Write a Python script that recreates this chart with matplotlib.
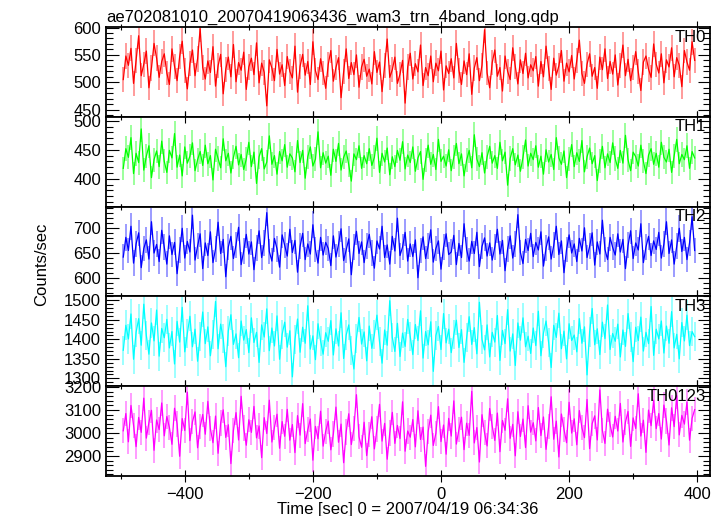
import numpy as np
import matplotlib
matplotlib.use("Agg")
import matplotlib.pyplot as plt
from matplotlib.ticker import MultipleLocator

plt.rcParams["font.family"] = ["Liberation Sans", "DejaVu Sans"]

# light curve bins (start time and bin width in sec)
t_start = -496
t_bin = 4

th0 = [505, 548, 531, 562, 498, 540, 585, 512, 533, 557, 490, 526, 571, 544, 509, 538,
       552, 517, 496, 561, 529, 503, 547, 575, 521, 488, 534, 559, 512, 543, 598, 527,
       506, 539, 518, 565, 493, 530, 551, 479, 524, 546, 510, 569, 501, 536, 522, 555,
       487, 528, 544, 514, 572, 499, 535, 518, 457, 541, 526, 503, 560, 515, 532, 494,
       547, 520, 508, 566, 482, 529, 551, 513, 538, 496, 574, 521, 505, 543, 517, 489,
       533, 558, 502, 527, 545, 472, 519, 561, 507, 536, 514, 550, 491, 528, 542, 511,
       524, 497, 556, 518, 537, 483, 531, 579, 509, 523, 546, 498, 515, 540, 462, 528,
       553, 506, 534, 519, 568, 494, 527, 512, 548, 501, 535, 521, 557, 486, 530, 516,
       543, 508, 571, 522, 496, 539, 514, 552, 478, 526, 545, 503, 531, 596, 517, 490,
       536, 559, 511, 527, 484, 548, 520, 505, 563, 529, 497, 541, 516, 553, 508, 532,
       521, 547, 493, 538, 510, 566, 525, 487, 544, 513, 530, 558, 502, 535, 519, 549,
       506, 540, 577, 516, 498, 533, 552, 511, 527, 489, 546, 523, 561, 507, 538, 515,
       550, 495, 531, 568, 512, 542, 503, 527, 556, 519, 485, 537, 548, 524, 509, 570,
       533, 517, 552, 499, 541, 528, 563, 510, 545, 531, 492, 558, 537, 522, 574, 540]

th1 = [418, 452, 437, 471, 409, 444, 428, 486, 415, 439, 457, 402, 433, 448, 421, 465,
       430, 411, 449, 436, 478, 420, 441, 405, 455, 427, 439, 462, 414, 433, 447, 423,
       458, 426, 440, 398, 451, 435, 419, 469, 431, 444, 410, 437, 456, 424, 442, 416,
       434, 463, 421, 446, 392, 438, 452, 417, 429, 474, 425, 440, 408, 447, 431, 459,
       420, 443, 436, 412, 466, 428, 449, 401, 438, 455, 422, 434, 481, 419, 445, 427,
       439, 406, 451, 430, 461, 415, 437, 448, 424, 396, 443, 433, 457, 418, 440, 426,
       452, 423, 437, 470, 411, 444, 429, 453, 407, 438, 421, 449, 432, 464, 417, 441,
       428, 455, 413, 436, 447, 399, 433, 458, 425, 442, 416, 468, 430, 439, 422, 450,
       414, 437, 461, 426, 443, 405, 432, 449, 419, 476, 434, 421, 445, 410, 438, 456,
       427, 440, 418, 463, 431, 446, 389, 435, 452, 424, 441, 413, 437, 467, 422, 444,
       433, 457, 420, 439, 408, 450, 429, 442, 416, 471, 436, 425, 448, 402, 434, 459,
       421, 445, 430, 466, 412, 438, 453, 426, 440, 397, 431, 456, 419, 443, 428, 462,
       435, 418, 449, 427, 475, 433, 414, 446, 438, 422, 458, 430, 409, 441, 452, 425,
       444, 420, 463, 437, 429, 451, 411, 439, 468, 426, 442, 433, 457, 418, 447, 436]

th2 = [642, 681, 655, 703, 630, 668, 690, 621, 659, 676, 638, 712, 650, 667, 633, 695,
       661, 628, 684, 647, 671, 609, 656, 699, 640, 673, 652, 725, 636, 664, 688, 619,
       670, 645, 692, 631, 658, 711, 649, 677, 603, 662, 683, 639, 666, 701, 627, 654,
       687, 648, 672, 617, 660, 694, 641, 669, 730, 653, 634, 679, 658, 622, 686, 665,
       644, 697, 651, 675, 612, 663, 689, 637, 668, 648, 706, 657, 630, 681, 646, 671,
       659, 625, 684, 642, 667, 698, 635, 656, 678, 607, 661, 693, 649, 672, 631, 664,
       687, 650, 620, 674, 658, 703, 641, 666, 628, 683, 654, 719, 645, 662, 691, 634,
       668, 643, 676, 601, 655, 682, 639, 664, 696, 632, 659, 674, 618, 661, 688, 647,
       652, 685, 627, 669, 641, 708, 657, 634, 673, 649, 691, 623, 663, 680, 644, 670,
       636, 662, 697, 648, 675, 615, 658, 684, 640, 667, 726, 651, 629, 677, 655, 689,
       643, 671, 656, 692, 624, 660, 682, 638, 665, 703, 647, 674, 611, 657, 686, 650,
       668, 633, 679, 654, 700, 641, 663, 690, 626, 672, 648, 715, 657, 637, 681, 661,
       646, 688, 652, 677, 619, 665, 694, 639, 670, 656, 708, 631, 662, 683, 645, 674,
       657, 691, 640, 668, 712, 649, 676, 628, 664, 699, 653, 681, 637, 670, 722, 655]

th3 = [1372, 1436, 1401, 1465, 1349, 1418, 1453, 1385, 1490, 1410, 1362, 1442, 1396, 1475, 1357, 1428,
       1404, 1451, 1378, 1420, 1337, 1446, 1393, 1482, 1368, 1415, 1459, 1381, 1426, 1344, 1408, 1470,
       1389, 1432, 1358, 1412, 1497, 1376, 1439, 1402, 1330, 1421, 1463, 1387, 1414, 1353, 1447, 1398,
       1425, 1366, 1455, 1392, 1418, 1341, 1437, 1406, 1478, 1371, 1429, 1383, 1460, 1349, 1413, 1444,
       1380, 1422, 1304, 1399, 1452, 1367, 1431, 1390, 1486, 1375, 1409, 1348, 1440, 1396, 1362, 1417,
       1395, 1448, 1360, 1427, 1383, 1468, 1351, 1411, 1437, 1372, 1324, 1403, 1456, 1388, 1419, 1345,
       1434, 1377, 1413, 1462, 1394, 1339, 1424, 1385, 1499, 1405, 1369, 1441, 1356, 1416, 1382, 1451,
       1407, 1361, 1438, 1397, 1473, 1352, 1420, 1386, 1445, 1318, 1410, 1433, 1374, 1466, 1391, 1426,
       1366, 1412, 1449, 1379, 1425, 1341, 1404, 1458, 1387, 1430, 1363, 1495, 1400, 1373, 1437, 1355,
       1418, 1393, 1461, 1346, 1423, 1389, 1476, 1370, 1414, 1333, 1442, 1398, 1455, 1381, 1408, 1364,
       1429, 1384, 1472, 1358, 1416, 1447, 1392, 1328, 1436, 1405, 1467, 1376, 1421, 1350, 1440, 1397,
       1411, 1368, 1453, 1390, 1432, 1309, 1419, 1479, 1386, 1427, 1361, 1444, 1402, 1488, 1374, 1415,
       1395, 1439, 1355, 1424, 1382, 1466, 1406, 1343, 1431, 1397, 1457, 1370, 1418, 1389, 1484, 1359,
       1426, 1401, 1447, 1365, 1434, 1390, 1471, 1378, 1413, 1350, 1443, 1396, 1462, 1384, 1420, 1407]

th0123 = [3010, 3085, 2962, 3120, 3034, 2941, 3068, 3003, 3152, 2978, 3046, 3099, 2925, 3057, 3015, 3131,
          2988, 3072, 3024, 2951, 3108, 3040, 2899, 3063, 3011, 3178, 2967, 3049, 3092, 2936, 3027, 3081,
          2995, 3138, 3019, 2958, 3074, 2912, 3044, 3101, 2981, 3036, 2867, 3012, 3089, 2970, 3160, 3022,
          2947, 3058, 3003, 3116, 2979, 3031, 2893, 3067, 2998, 3143, 2961, 3025, 3082, 2934, 3050, 2986,
          3103, 2969, 3037, 2915, 3076, 2991, 3128, 2954, 3014, 3061, 2882, 3029, 2975, 3095, 2943, 3008,
          3052, 2927, 2996, 3113, 2960, 3039, 2871, 3005, 3084, 2950, 3021, 3167, 2984, 2938, 3047, 2902,
          2993, 3071, 2931, 3018, 3125, 2965, 3042, 2886, 3000, 3090, 2955, 3033, 2976, 3136, 2921, 3009,
          2982, 3059, 2940, 3097, 2972, 3026, 2855, 3006, 3078, 2946, 2999, 3115, 2963, 3035, 2908, 3064,
          2987, 3140, 2952, 3016, 3069, 2928, 3043, 2990, 3182, 2957, 3024, 2874, 3080, 3001, 2944, 3107,
          3030, 2968, 3087, 2919, 3055, 3012, 3149, 2977, 3038, 2901, 3093, 2985, 3061, 2937, 3119, 3004,
          3045, 2966, 3111, 2989, 3070, 2929, 3027, 3158, 2973, 3052, 2896, 3083, 3017, 2958, 3134, 3000,
          3062, 2949, 3098, 3023, 2980, 3146, 2932, 3041, 3075, 2970, 3188, 3011, 2955, 3104, 3036, 2983,
          3073, 3009, 3129, 2961, 3048, 3094, 2942, 3066, 3020, 3171, 2987, 3056, 2916, 3100, 3032, 3143,
          3019, 3085, 2974, 3122, 3053, 2948, 3110, 3028, 3163, 2992, 3077, 3039, 3135, 2969, 3064, 3102]

names = ["TH0", "TH1", "TH2", "TH3", "TH0123"]
series = [th0, th1, th2, th3, th0123]
colors = ["#ff0000", "#00ff00", "#0000ff", "#00ffff", "#ff00ff"]
ylims = [(437, 601), (352, 507), (564, 742), (1280, 1510), (2813, 3204)]
ymajor = [50, 50, 50, 50, 100]
yminor = [10, 10, 10, 10, 20]

fig = plt.figure(figsize=(7.24, 5.16), dpi=100)
gs = fig.add_gridspec(5, 1, left=0.1464, right=0.9807, bottom=0.0775, top=0.9477, hspace=0)
axes = [fig.add_subplot(gs[i]) for i in range(5)]

for ax, name, vals, c, yl, mj, mn in zip(axes, names, series, colors, ylims, ymajor, yminor):
    vals = np.array(vals, dtype=float)
    t = t_start + t_bin * np.arange(len(vals))
    err = np.sqrt(vals)
    ax.errorbar(t, vals, yerr=err, fmt="none", ecolor=c, elinewidth=1.1, alpha=0.5)
    ax.plot(t, vals, color=c, lw=0.9)
    ax.set_xlim(-523, 420)
    ax.set_ylim(*yl)
    ax.xaxis.set_major_locator(MultipleLocator(200))
    ax.xaxis.set_minor_locator(MultipleLocator(100))
    ax.yaxis.set_major_locator(MultipleLocator(mj))
    ax.yaxis.set_minor_locator(MultipleLocator(mn))
    ax.tick_params(which="both", direction="inout", top=True, right=True, labelsize=12, width=0.8)
    ax.tick_params(which="major", length=9)
    ax.tick_params(which="minor", length=5)
    ax.tick_params(axis="y", which="both", direction="in")
    for s in ax.spines.values():
        s.set_linewidth(1.3)
    ax.text(0.993, 0.97, name, transform=ax.transAxes, ha="right", va="top", fontsize=12)
    if ax is not axes[-1]:
        ax.tick_params(labelbottom=False)

axes[0].set_title("ae702081010_20070419063436_wam3_trn_4band_long.qdp", loc="left",
                  fontsize=12, x=0.0, pad=4)
fig.text(0.058, 0.487, "Counts/sec", rotation=90, ha="center", va="center", fontsize=12)
axes[-1].set_xlabel("Time [sec] 0 = 2007/04/19 06:34:36", fontsize=12, labelpad=0)

fig.savefig("out.png", dpi=100)
